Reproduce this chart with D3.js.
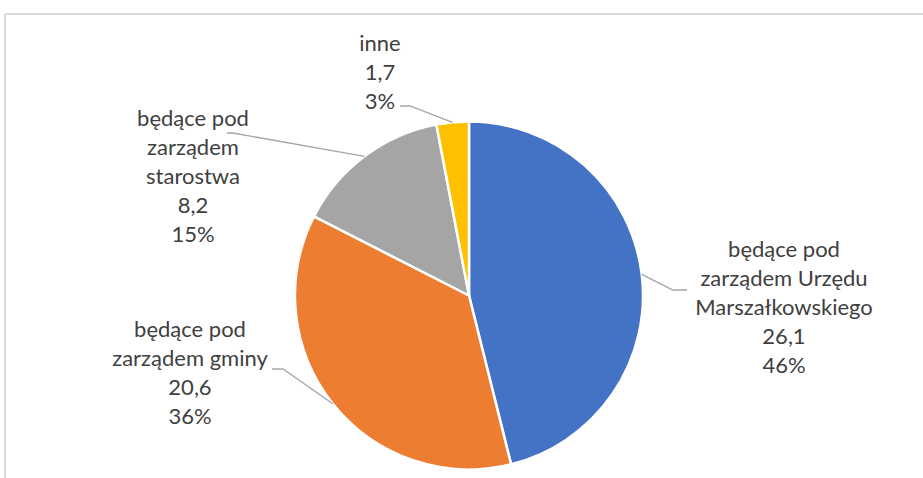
<!DOCTYPE html>
<html>
<head>
<meta charset="utf-8">
<script src="https://cdn.jsdelivr.net/npm/d3@7/dist/d3.min.js"></script>
<style>
  html, body { margin: 0; padding: 0; background: #fff; }
  svg { display: block; }
</style>
</head>
<body>
<svg id="chart" width="923" height="478"></svg>
<script>
// ---- data ----
const categories = [
  "będące pod zarządem Urzędu Marszałkowskiego",
  "będące pod zarządem gminy",
  "będące pod zarządem starostwa",
  "inne"
];
const values = [26.1, 20.6, 8.2, 1.7];
const percents = [46, 36, 15, 3];
const labelLines = [
  ["będące pod", "zarządem Urzędu", "Marszałkowskiego"],
  ["będące pod", "zarządem gminy"],
  ["będące pod", "zarządem", "starostwa"],
  ["inne"]
];
const colors = ["#4472C4", "#ED7D31", "#A5A5A5", "#FFC000"];

// ---- layout (label placement) ----
const W = 923, H = 478;
const cx = 469, cy = 295.5, R = 174;
const labelLayout = [
  { x: 784, y: 248, elbow: [673, 290], end: [687, 290] },
  { x: 190, y: 328, elbow: [283, 369], end: [272, 369] },
  { x: 193, y: 117, elbow: [233, 133], end: [227, 133] },
  { x: 380, y: 42,  elbow: [410, 106], end: [400, 106] }
];
const lineH = 29.2;

const svg = d3.select("#chart");

// frame (cropped chart border)
svg.append("line").attr("x1", 5).attr("x2", W).attr("y1", 14).attr("y2", 14)
  .attr("stroke", "#d9d9d9").attr("stroke-width", 2);
svg.append("line").attr("x1", 5).attr("x2", 5).attr("y1", 14).attr("y2", H)
  .attr("stroke", "#d9d9d9").attr("stroke-width", 2);

const data = categories.map((c, i) => ({ name: c, value: values[i], pct: percents[i], lines: labelLines[i], color: colors[i], layout: labelLayout[i] }));
const pl = d3.formatLocale({ decimal: ",", thousands: " ", grouping: [3], currency: ["", " zł"] });
const fmt = pl.format(".1f");

const pie = d3.pie().sort(null).value(d => d.value);
const arcs = pie(data);
const arc = d3.arc().innerRadius(0).outerRadius(R);

const g = svg.append("g").attr("transform", `translate(${cx},${cy})`);
g.selectAll("path.slice").data(arcs).join("path")
  .attr("class", "slice")
  .attr("d", arc)
  .attr("fill", d => d.data.color)
  .attr("stroke", "#fff")
  .attr("stroke-width", 2.5)
  .attr("stroke-linejoin", "round");

// leader lines
svg.selectAll("polyline.leader").data(arcs).join("polyline")
  .attr("class", "leader")
  .attr("points", d => {
    const a = (d.startAngle + d.endAngle) / 2;
    const px = cx + Math.sin(a) * R, py = cy - Math.cos(a) * R;
    const L = d.data.layout;
    return [[px, py], L.elbow, L.end].map(p => p.join(",")).join(" ");
  })
  .attr("fill", "none")
  .attr("stroke", "#a6a6a6")
  .attr("stroke-width", 1.3);

// labels
const lab = svg.selectAll("text.lab").data(arcs).join("text")
  .attr("class", "lab")
  .attr("text-anchor", "middle")
  .attr("font-family", "Lato, 'Open Sans', sans-serif")
  .attr("font-size", 22)
  .attr("fill", "#404040");
lab.each(function(d) {
  const L = d.data.layout;
  const lines = d.data.lines.concat([fmt(d.data.value), d.data.pct + "%"]);
  d3.select(this).selectAll("tspan").data(lines).join("tspan")
    .attr("x", L.x)
    .attr("y", (t, i) => L.y + i * lineH)
    .attr("dominant-baseline", "central")
    .text(t => t);
});
</script>
</body>
</html>
